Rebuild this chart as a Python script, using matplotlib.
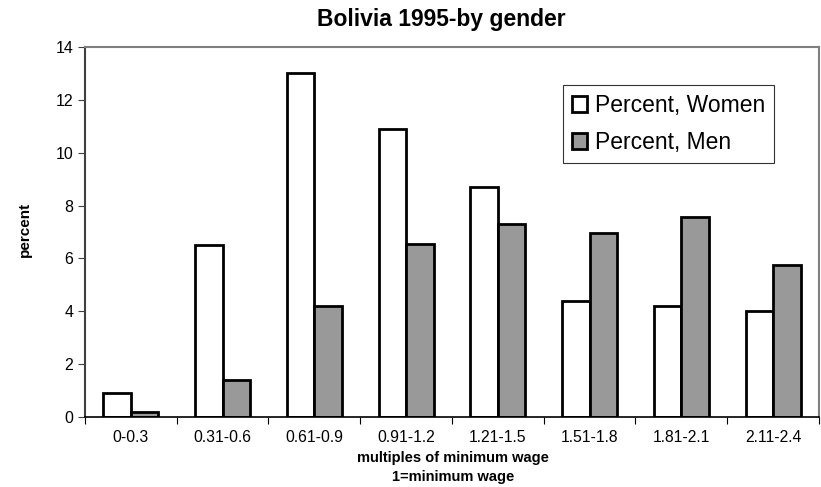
import numpy as np
import matplotlib.pyplot as plt

plt.rcParams['font.family'] = ['Liberation Sans', 'DejaVu Sans']

# データ
categories = ["0-0.3", "0.31-0.6", "0.61-0.9", "0.91-1.2", "1.21-1.5", "1.51-1.8", "1.81-2.1", "2.11-2.4"]
women = [0.9, 6.5, 13.0, 10.9, 8.7, 4.4, 4.2, 4.0]
men = [0.2, 1.4, 4.2, 6.55, 7.3, 6.95, 7.55, 5.75]

fig = plt.figure(figsize=(8.21, 4.87), dpi=100)
ax = fig.add_axes([0.1035, 0.1437, 0.894, 0.76])

x = np.arange(len(categories))
w = 0.3
ax.bar(x - w/2, women, w, color='white', edgecolor='black', linewidth=2.0, label='Percent, Women')
ax.bar(x + w/2, men, w, color='#999999', edgecolor='black', linewidth=2.0, label='Percent, Men')

ax.set_xlim(-0.5, len(categories) - 0.5)
ax.set_ylim(0, 14)
ax.set_yticks(range(0, 15, 2))

# x軸の目盛りはカテゴリの境界に
ax.set_xticks(np.arange(-0.5, len(categories)), minor=False)
ax.set_xticklabels([])
ax.set_xticks(x, minor=True)
ax.set_xticklabels(categories, minor=True, fontsize=11.3)
ax.tick_params(axis='x', which='minor', length=0, pad=9)
ax.tick_params(axis='x', which='major', length=5, direction='out', color='black')
ax.tick_params(axis='y', length=5, direction='out', labelsize=11.5, color='#404040')

for s in ['top', 'right']:
    ax.spines[s].set_color('#808080')
    ax.spines[s].set_linewidth(1.5)
ax.spines['left'].set_color('#404040')
ax.spines['left'].set_linewidth(1.5)
ax.spines['bottom'].set_color('black')
ax.spines['bottom'].set_linewidth(1.2)

fig.text(0.538, 0.959, 'Bolivia 1995-by gender', fontsize=16.5, fontweight='bold', ha='center', va='center')
fig.text(0.030, 0.528, 'percent', fontsize=11, fontweight='bold', rotation=90, ha='center', va='center')
fig.text(0.552, 0.0595, 'multiples of minimum wage', fontsize=10.5, fontweight='bold', ha='center', va='center')
fig.text(0.552, 0.0205, '1=minimum wage', fontsize=10.5, fontweight='bold', ha='center', va='center')

leg = ax.legend(loc='upper left', bbox_to_anchor=(0.651, 0.897), fontsize=16.5, frameon=True,
                fancybox=False, edgecolor='black', handlelength=0.65, handleheight=0.65,
                handletextpad=0.35, borderpad=0.4, labelspacing=0.6, borderaxespad=0)
leg.get_frame().set_linewidth(0.8)

fig.savefig('out.png', dpi=100)
